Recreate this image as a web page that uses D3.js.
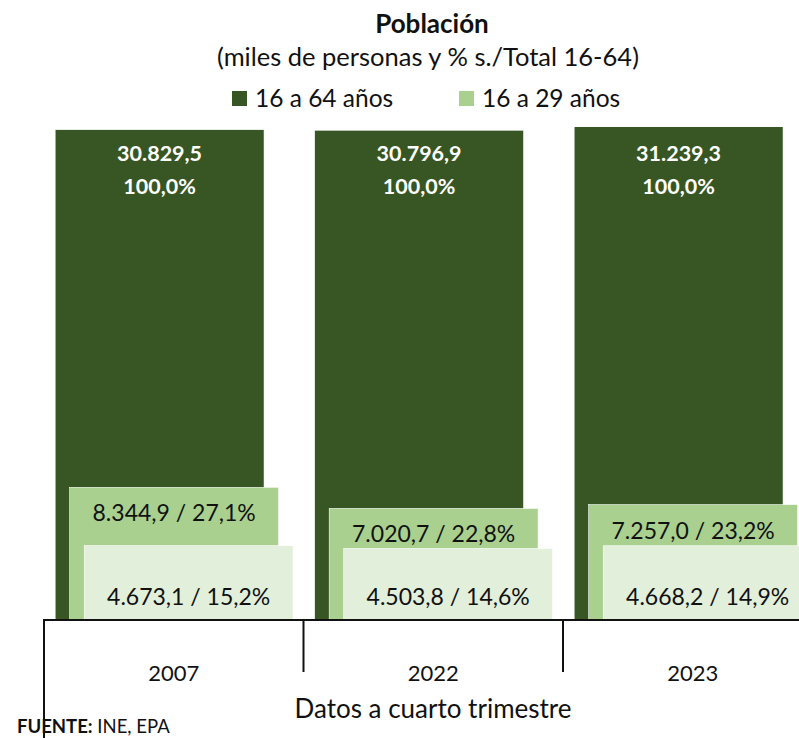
<!DOCTYPE html>
<html>
<head>
<meta charset="utf-8">
<script src="https://cdn.jsdelivr.net/npm/d3@7"></script>
<style>
  body { margin: 0; background: #fff; }
  svg { display: block; font-family: Lato, "Noto Sans", sans-serif; }
</style>
</head>
<body>
<svg width="799" height="738"></svg>
<script>
// datos (miles de personas), cuarto trimestre
var years = ["2007", "2022", "2023"];
var total1664 = [30829.5, 30796.9, 31239.3];
var pop1629 = [8344.9, 7020.7, 7257.0];
var pop1624 = [4673.1, 4503.8, 4668.2];
var legendNames = ["16 a 64 años", "16 a 29 años"];
var colors = ["#375623", "#a9d08e", "#e2efda"];

const svg = d3.select("svg");
const es = d3.formatLocale({decimal: ",", thousands: ".", grouping: [3], currency: ["", "€"]});
const fmtNum = es.format(",.1f");
const fmtPct = es.format(".1f");

var plotTop = 127, plotBottom = 620;

var x = d3.scaleBand().domain(years).range([44, 44 + 3 * 259.5]);
var y = d3.scaleLinear().domain([0, 31000]).range([plotBottom, plotTop]);

var bw = x.bandwidth();
var barW = bw * 0.805;
var barOff = bw * 0.043;
var step = bw * 0.056;

svg.append("defs").append("clipPath").attr("id", "plotclip")
  .append("rect").attr("x", 0).attr("y", plotTop).attr("width", 799).attr("height", plotBottom - plotTop);

var series = [total1664, pop1629, pop1624];

var g = svg.append("g").attr("clip-path", "url(#plotclip)");
series.forEach(function(vals, si) {
  g.selectAll(".s" + si)
    .data(years)
    .join("rect")
      .attr("class", "s" + si)
      .attr("x", d => x(d) + barOff + si * step)
      .attr("y", (d, i) => y(vals[i]))
      .attr("width", barW)
      .attr("height", (d, i) => plotBottom - y(vals[i]))
      .attr("fill", colors[si])
      .attr("stroke", "#fff")
      .attr("stroke-width", 0.6);
});

// etiquetas 16-64 (arriba, blanco)
var lab0 = svg.append("g").attr("fill", "#fff").attr("font-weight", "bold")
  .attr("font-size", 21.5).attr("text-anchor", "middle");
years.forEach(function(d, i) {
  var cx = x(d) + barOff + barW / 2;
  lab0.append("text").attr("x", cx).attr("y", 161).text(fmtNum(total1664[i]));
  lab0.append("text").attr("x", cx).attr("y", 194).text(fmtPct(100) + "%");
});

// etiquetas 16-29 y 16-24
var lab = svg.append("g").attr("fill", "#111").attr("font-size", 23).attr("text-anchor", "middle");
years.forEach(function(d, i) {
  var cx1 = x(d) + barOff + step + barW / 2;
  lab.append("text").attr("x", cx1).attr("y", y(pop1629[i]) + 34)
    .text(fmtNum(pop1629[i]) + " / " + fmtPct(pop1629[i] / total1664[i] * 100) + "%");
  var cx2 = x(d) + barOff + 2 * step + barW / 2;
  lab.append("text").attr("x", cx2).attr("y", 605)
    .text(fmtNum(pop1624[i]) + " / " + fmtPct(pop1624[i] / total1664[i] * 100) + "%");
});

// eje de categorías
var axis = d3.axisBottom(x).tickSize(0).tickPadding(0);
var axis_g = svg.append("g").attr("transform", "translate(0," + plotBottom + ")").call(axis);
axis_g.select(".domain").remove();
axis_g.selectAll("text").attr("y", 45).attr("font-size", 22).attr("fill", "#111")
  .attr("font-family", "Lato, sans-serif");

svg.append("line").attr("x1", 43).attr("x2", 799).attr("y1", plotBottom).attr("y2", plotBottom)
  .attr("stroke", "#111").attr("stroke-width", 2);
svg.append("line").attr("x1", 44).attr("x2", 44).attr("y1", plotBottom).attr("y2", 738)
  .attr("stroke", "#111").attr("stroke-width", 2);
svg.selectAll(".sep").data(years.slice(1)).join("line")
  .attr("class", "sep")
  .attr("x1", d => x(d)).attr("x2", d => x(d))
  .attr("y1", plotBottom).attr("y2", 672)
  .attr("stroke", "#111").attr("stroke-width", 2);

svg.append("text").attr("x", 433).attr("y", 718).attr("text-anchor", "middle")
  .attr("font-size", 26).attr("fill", "#111").text("Datos a cuarto trimestre");

var src = svg.append("text").attr("x", 17).attr("y", 733).attr("font-size", 18.5).attr("fill", "#111");
src.append("tspan").attr("font-weight", "bold").text("FUENTE:");
src.append("tspan").text(" INE, EPA");

// título
svg.append("text").attr("x", 432).attr("y", 33).attr("text-anchor", "middle")
  .attr("font-size", 26).attr("font-weight", "bold").attr("fill", "#111").text("Población");
svg.append("text").attr("x", 428).attr("y", 66).attr("text-anchor", "middle")
  .attr("font-size", 25.5).attr("fill", "#111").text("(miles de personas y % s./Total 16-64)");

// leyenda
var legX = [232, 459];
var leg = svg.append("g");
legendNames.forEach(function(n, i) {
  leg.append("rect").attr("x", legX[i]).attr("y", 91).attr("width", 15).attr("height", 15)
    .attr("fill", colors[i]);
  leg.append("text").attr("x", legX[i] + 23).attr("y", 107).attr("font-size", 24.5)
    .attr("fill", "#111").text(n);
});
</script>
</body>
</html>
